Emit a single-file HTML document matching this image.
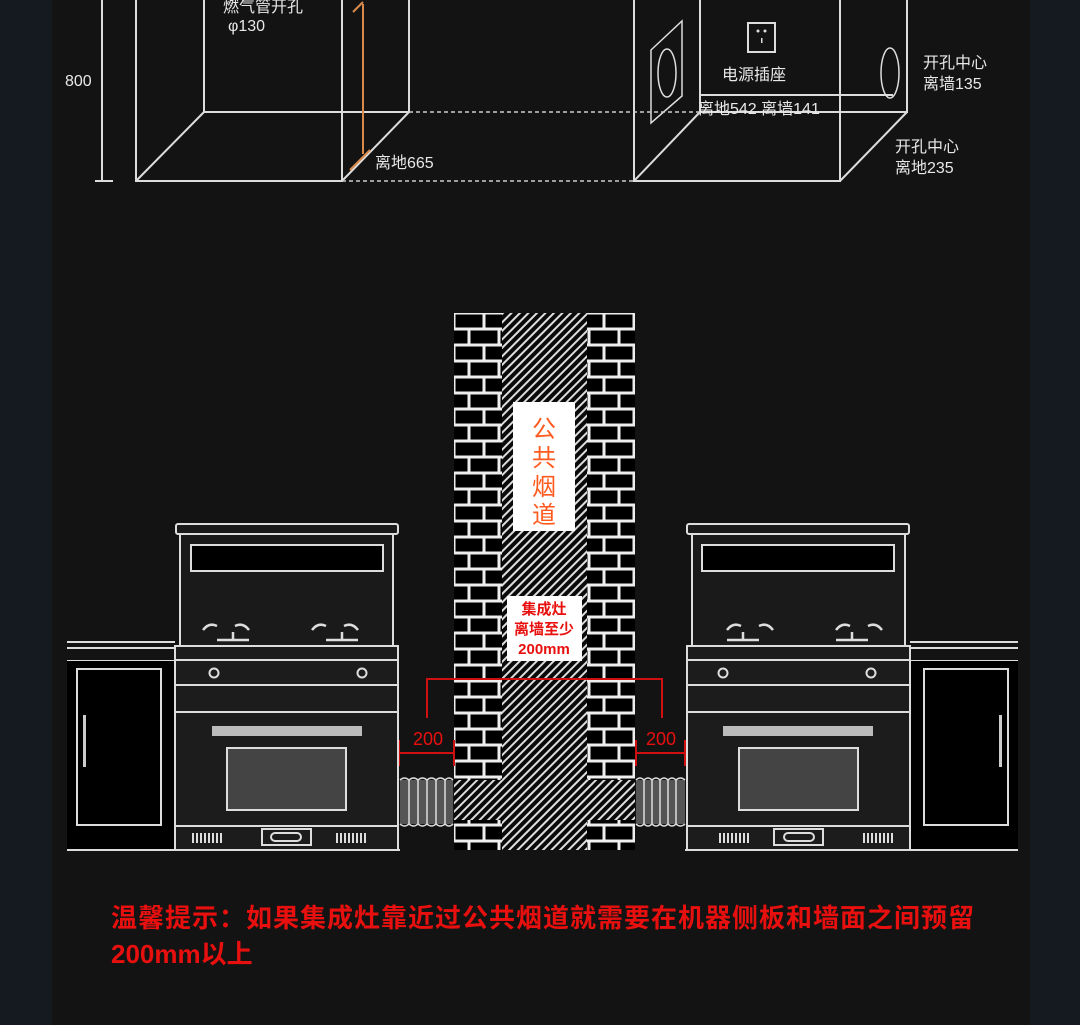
<!DOCTYPE html>
<html><head><meta charset="utf-8"><style>
html,body{margin:0;padding:0;background:#151a21;}
body{width:1080px;height:1025px;overflow:hidden;position:relative;font-family:"Liberation Sans","Noto Sans CJK SC",sans-serif;}
svg{position:absolute;left:0;top:0;}
</style></head><body>
<svg width="1080" height="1025" viewBox="0 0 1080 1025" xmlns="http://www.w3.org/2000/svg">
<defs>
<pattern id="brick" x="454" y="313" width="30" height="32" patternUnits="userSpaceOnUse">
<rect width="30" height="32" fill="#eee"/>
<rect x="1.5" y="1.5" width="27" height="13" fill="#000"/>
<rect x="-13.5" y="17.5" width="27" height="13" fill="#000"/>
<rect x="16.5" y="17.5" width="27" height="13" fill="#000"/>
</pattern>
<pattern id="hatch" width="6" height="6" patternUnits="userSpaceOnUse" patternTransform="rotate(45)">
<rect width="6" height="6" fill="#0a0a0a"/>
<rect x="0" y="0" width="2" height="6" fill="#ddd"/>
</pattern>
</defs>
<rect x="52" y="0" width="978" height="1025" fill="#131313"/>
<g fill="none" stroke="#ddd" stroke-width="2">
<!-- top left box -->
<line x1="102" y1="0" x2="102" y2="181"/><line x1="95" y1="181" x2="113" y2="181"/>
<rect x="136" y="-5" width="206" height="186"/>
<polyline points="204,-5 204,112 409,112 409,-5"/>
<line x1="136" y1="181" x2="204" y2="112"/><line x1="342" y1="181" x2="409" y2="112"/>
<!-- top right box -->
<rect x="634" y="-5" width="206" height="186"/>
<polyline points="700,-5 700,112 907,112 907,-5"/>
<line x1="700" y1="95" x2="893" y2="95"/>
<line x1="634" y1="181" x2="700" y2="112"/><line x1="840" y1="181" x2="907" y2="112"/>
<polygon points="651,50 682,21 682,96 651,123" stroke-width="1.5"/>
<ellipse cx="667" cy="73" rx="9" ry="24" stroke-width="1.5"/>
<ellipse cx="890" cy="73" rx="9" ry="25" stroke-width="1.5"/>
<rect x="748" y="23" width="27" height="29" stroke-width="2"/>
</g>
<g stroke="#ccc" stroke-width="1.5" stroke-dasharray="4,3">
<line x1="409" y1="112" x2="700" y2="112"/><line x1="342" y1="181" x2="634" y2="181"/>
</g>
<g stroke="#d98a4a" stroke-width="2" fill="none">
<line x1="363" y1="4" x2="363" y2="154"/><line x1="350" y1="170" x2="370" y2="150"/><line x1="353" y1="12" x2="363" y2="2"/>
</g>
<g fill="#e8e8e8" font-size="16">
<text x="65" y="86">800</text>
<text x="223" y="12">燃气管开孔</text>
<text x="228" y="31">φ130</text>
<text x="375" y="168">离地665</text>
<text x="722" y="80">电源插座</text>
<text x="698" y="114">离地542 离墙141</text>
<text x="923" y="68">开孔中心</text><text x="923" y="89">离墙135</text>
<text x="895" y="152">开孔中心</text><text x="895" y="173">离地235</text>
</g>
<g fill="#ddd"><circle cx="758" cy="31" r="1.5"/><circle cx="765" cy="31" r="1.5"/><rect x="761" y="38" width="1.5" height="5"/></g>

<!-- chimney -->
<rect x="454" y="313" width="181" height="537" fill="url(#brick)"/>
<rect x="502" y="313" width="85" height="537" fill="url(#hatch)"/>
<rect x="454" y="780" width="181" height="40" fill="url(#hatch)"/>
<rect x="513" y="402" width="62" height="129" fill="#fff"/>
<g fill="#ff5a1e" font-size="24" text-anchor="middle"><text x="544" y="437">公</text><text x="544" y="466">共</text><text x="544" y="495">烟</text><text x="544" y="523">道</text></g>
<rect x="507" y="596" width="75" height="65" fill="#fff"/>
<g fill="#e8100e" font-size="15" font-weight="bold" text-anchor="middle"><text x="544" y="614">集成灶</text><text x="544" y="634">离墙至少</text><text x="544" y="654">200mm</text></g>

<!-- pipes -->
<g>
<rect x="400" y="780" width="53" height="44" fill="#555"/>
<rect x="636" y="780" width="49" height="44" fill="#555"/>
<g stroke="#ddd" stroke-width="1.5" fill="none">
<path d="M400 780 q4.5 -4 9 0 q4.5 -4 9 0 q4.5 -4 9 0 q4.5 -4 9 0 q4.5 -4 9 0 q4 -4 8 0 M400 824 q4.5 4 9 0 q4.5 4 9 0 q4.5 4 9 0 q4.5 4 9 0 q4.5 4 9 0 q4 4 8 0"/>
<path d="M409 780v44M418 780v44M427 780v44M436 780v44M445 780v44"/>
<path d="M636 780 q4 -4 8 0 q4 -4 8 0 q4 -4 8 0 q4 -4 8 0 q4 -4 8 0 q4.5 -4 9 0 M636 824 q4 4 8 0 q4 4 8 0 q4 4 8 0 q4 4 8 0 q4 4 8 0 q4.5 4 9 0"/>
<path d="M644 780v44M652 780v44M660 780v44M668 780v44M676 780v44"/>
</g></g>

<!-- red dims -->
<g stroke="#d01010" stroke-width="2" fill="none">
<polyline points="427,718 427,679 662,679 662,718"/>
<line x1="399" y1="753" x2="454" y2="753"/><line x1="399" y1="740" x2="399" y2="766"/><line x1="454" y1="740" x2="454" y2="766"/>
<line x1="636" y1="753" x2="685" y2="753"/><line x1="636" y1="740" x2="636" y2="766"/><line x1="685" y1="740" x2="685" y2="766"/>
</g>
<g fill="#e8100e" font-size="18" text-anchor="middle"><text x="428" y="745">200</text><text x="661" y="745">200</text></g>

<!-- left unit -->
<g id="unitL" fill="none" stroke="#ddd" stroke-width="2">
<line x1="67" y1="642" x2="175" y2="642"/><line x1="67" y1="648" x2="175" y2="648"/><line x1="67" y1="661" x2="175" y2="661"/>
<rect x="67" y="661" width="108" height="189" fill="#000" stroke="none"/>
<rect x="77" y="669" width="84" height="156" fill="#000"/>
<rect x="83" y="715" width="3" height="52" fill="#ccc" stroke="none"/>
<rect x="176" y="524" width="222" height="10" rx="2" fill="#1a1a1a"/>
<rect x="180" y="534" width="213" height="112" fill="#1a1a1a"/>
<rect x="191" y="545" width="192" height="26" fill="#000"/>
<rect x="175" y="646" width="223" height="204" fill="#1c1c1c"/>
<line x1="175" y1="660" x2="398" y2="660"/><line x1="175" y1="685" x2="398" y2="685"/><line x1="175" y1="712" x2="398" y2="712"/>
<line x1="175" y1="826" x2="398" y2="826"/>
<line x1="67" y1="850" x2="400" y2="850"/>
<circle cx="214" cy="673" r="4.5"/><circle cx="362" cy="673" r="4.5"/>
<rect x="212" y="726" width="150" height="10" fill="#bbb" stroke="none"/>
<rect x="227" y="748" width="119" height="62" fill="#444"/>
<rect x="262" y="829" width="49" height="16"/>
<rect x="271" y="833" width="30" height="8" rx="4"/>
<path d="M203 630 q6 -8 14 -4 M249 630 q-6 -8 -14 -4 M217 640h32M233 632v8 M312 630 q6 -8 14 -4 M358 630 q-6 -8 -14 -4 M326 640h32M342 632v8" stroke-width="2.5"/>
<path d="M193 833v10M197 833v10M201 833v10M205 833v10M209 833v10M213 833v10M217 833v10M221 833v10M337 833v10M341 833v10M345 833v10M349 833v10M353 833v10M357 833v10M361 833v10M365 833v10" stroke-width="2"/>
</g>
<use href="#unitL" transform="translate(1085,0) scale(-1,1)"/>

<!-- bottom text -->
<g fill="#e8100e" font-size="26" font-weight="bold">
<text x="111" y="927" letter-spacing="1">温馨提示：如果集成灶靠近过公共烟道就需要在机器侧板和墙面之间预留</text>
<text x="111" y="963">200mm以上</text>
</g>
</svg>
</body></html>
